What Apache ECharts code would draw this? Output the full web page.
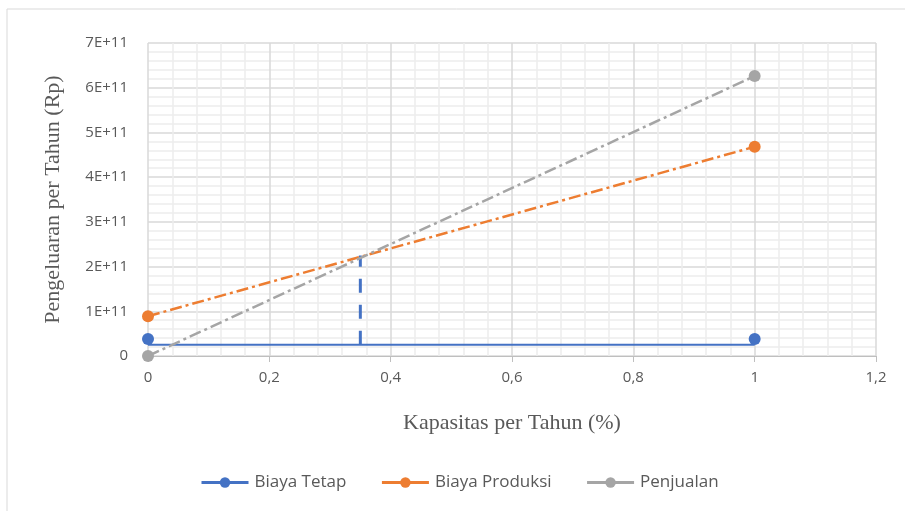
<!DOCTYPE html>
<html>
<head>
<meta charset="utf-8">
<script src="https://cdn.jsdelivr.net/npm/echarts@6/dist/echarts.min.js"></script>
<style>
  html, body { margin: 0; padding: 0; background: #fff; }
  #chart { width: 905px; height: 511px; }
</style>
</head>
<body>
<div id="chart"></div>
<script>
// Capacity (fraction of yearly capacity) at the two ends of each line
const kapasitas = [0, 1];
// Yearly amounts in Rupiah
const biayaTetap = [3.8e10, 3.8e10];
const biayaProduksi = [8.9e10, 4.68e11];
const penjualan = [0, 6.26e11];
// Break-even guide: fixed-cost baseline and the vertical marker at the BEP
const garisTetap = [2.5e10, 2.5e10];
const bepKapasitas = 0.35;
const bepNilai = [2.5e10, 2.25e11];

const yTicks = [0, 1e11, 2e11, 3e11, 4e11, 5e11, 6e11, 7e11];

const pairs = (xs, ys) => xs.map((x, i) => [x, ys[i]]);

const labelColor = '#595959';
const sansFont = 'Open Sans';
const serifFont = 'Liberation Serif';

const chart = echarts.init(document.getElementById('chart'), null, { renderer: 'canvas' });

chart.setOption({
  animation: false,
  backgroundColor: '#fff',
  graphic: [{
    type: 'rect',
    shape: { x: 7, y: 9, width: 920, height: 530 },
    style: { fill: 'none', stroke: '#d9d9d9', lineWidth: 1 },
    silent: true,
    z: -10
  }],
  grid: { left: 148, right: 29, top: 43, bottom: 155 },
  legend: {
    data: ['Biaya Tetap', 'Biaya Produksi', 'Penjualan'],
    left: 195,
    top: 469,
    itemWidth: 47,
    itemHeight: 13,
    itemGap: 34,
    lineStyle: { opacity: 1, type: 'solid', width: 3 },
    textStyle: { color: labelColor, fontFamily: sansFont, fontSize: 17, padding: [0, 0, 0, 1] }
  },
  xAxis: {
    type: 'value',
    min: 0,
    max: 1.2,
    interval: 0.2,
    name: 'Kapasitas per Tahun (%)',
    nameLocation: 'middle',
    nameGap: 56,
    nameTextStyle: { color: labelColor, fontFamily: serifFont, fontSize: 22 },
    axisLine: { show: true, lineStyle: { color: '#bfbfbf', width: 1 } },
    axisTick: { show: true, length: 6, lineStyle: { color: '#bfbfbf' } },
    minorTick: { show: false, splitNumber: 5 },
    axisLabel: {
      color: labelColor, fontFamily: sansFont, fontSize: 15, margin: 14,
      formatter: v => String(Math.round(v * 10) / 10).replace('.', ',')
    },
    splitLine: { show: true, lineStyle: { color: '#d9d9d9', width: 1.5 } },
    minorSplitLine: { show: true, lineStyle: { color: '#ededed', width: 1.5 } }
  },
  yAxis: {
    type: 'value',
    min: 0,
    max: 7e11,
    interval: 1e11,
    name: 'Pengeluaran per Tahun (Rp)',
    nameLocation: 'middle',
    nameGap: 84,
    nameTextStyle: { color: labelColor, fontFamily: serifFont, fontSize: 22 },
    axisLine: { show: false },
    axisTick: { show: false },
    minorTick: { show: false, splitNumber: 5 },
    axisLabel: {
      color: labelColor, fontFamily: sansFont, fontSize: 15, margin: 20,
      formatter: v => {
        const i = yTicks.indexOf(v);
        if (i === 0) return '0';
        return i > 0 ? i + 'E+11' : '';
      }
    },
    splitLine: { show: true, lineStyle: { color: '#d9d9d9', width: 1.5 } },
    minorSplitLine: { show: true, lineStyle: { color: '#ededed', width: 1.5 } }
  },
  series: [
    {
      name: 'Garis Tetap',
      type: 'line',
      data: pairs(kapasitas, garisTetap),
      symbol: 'none',
      lineStyle: { color: '#4472C4', width: 2 },
      z: 2
    },
    {
      name: 'BEP',
      type: 'line',
      data: pairs([bepKapasitas, bepKapasitas], bepNilai),
      symbol: 'none',
      lineStyle: { color: '#4472C4', width: 3, type: [14, 12], cap: 'butt' },
      z: 2
    },
    {
      name: 'Biaya Tetap',
      type: 'line',
      data: pairs(kapasitas, biayaTetap),
      symbol: 'circle',
      symbolSize: 12,
      itemStyle: { color: '#4472C4' },
      lineStyle: { color: '#4472C4', width: 3, opacity: 0 },
      z: 3
    },
    {
      name: 'Biaya Produksi',
      type: 'line',
      data: pairs(kapasitas, biayaProduksi),
      symbol: 'circle',
      symbolSize: 12,
      itemStyle: { color: '#ED7D31' },
      lineStyle: { color: '#ED7D31', width: 2.5, type: [12, 4, 3, 4], cap: 'butt' },
      z: 3
    },
    {
      name: 'Penjualan',
      type: 'line',
      data: pairs(kapasitas, penjualan),
      symbol: 'circle',
      symbolSize: 12,
      itemStyle: { color: '#A5A5A5' },
      lineStyle: { color: '#A5A5A5', width: 2.5, type: [12, 4, 3, 4], cap: 'butt' },
      z: 3
    }
  ]
});
</script>
</body>
</html>
